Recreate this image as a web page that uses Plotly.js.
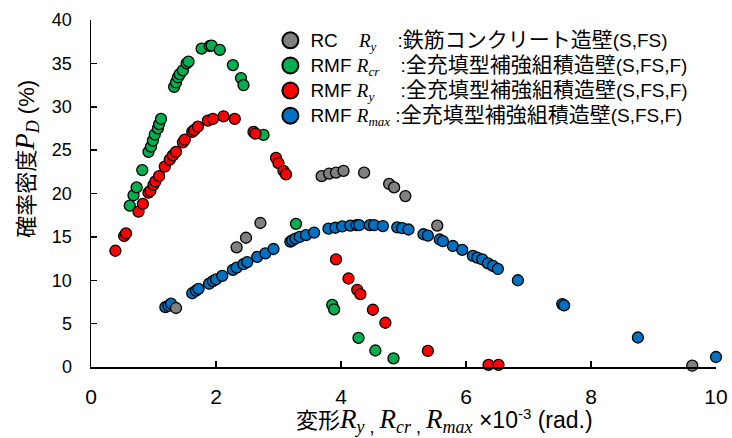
<!DOCTYPE html>
<html>
<head>
<meta charset="utf-8">
<script src="https://cdn.plot.ly/plotly-3.0.1.min.js"></script>
<style>html,body{margin:0;padding:0;background:#fff;}#chart{width:732px;height:438px;}</style>
</head>
<body>
<div id="chart"></div>
<script>
// RC Ry
const rcX = [1.36, 2.33, 2.48, 2.71, 3.69, 3.81, 3.92, 4.04, 4.37, 4.77, 4.85, 5.03, 5.54, 9.62];
const rcY = [6.8, 13.8, 14.9, 16.6, 22.0, 22.3, 22.4, 22.6, 22.4, 21.1, 20.7, 19.7, 16.3, 0.15];
// RMF Rcr
const crX = [0.62, 0.68, 0.73, 0.82, 0.92, 0.96, 0.99, 1.02, 1.07, 1.09, 1.12,
             1.33, 1.36, 1.39, 1.42, 1.47, 1.53, 1.56, 1.77, 1.90, 1.93, 2.06, 2.27, 2.40, 2.44, 2.76,
             3.28, 3.86, 3.89, 4.28, 4.55, 4.84];
const crY = [18.6, 19.8, 20.7, 22.7, 24.8, 25.4, 26.1, 26.8, 27.5, 28.0, 28.6,
             32.3, 32.8, 33.4, 33.75, 34.2, 35.0, 35.2, 36.7, 37.0, 37.05, 36.55, 34.8, 33.3, 32.5, 26.75,
             16.5, 7.15, 6.65, 3.35, 1.9, 1.0];
// RMF Ry
const ryX = [0.39, 0.53, 0.56, 0.76, 0.83, 0.92, 0.95, 1.00, 1.03, 1.09, 1.18, 1.26, 1.31, 1.36,
             1.47, 1.50, 1.62, 1.65, 1.71, 1.87, 1.95, 2.12, 2.30, 2.60, 2.63, 2.96, 3.00, 3.08, 3.12,
             3.92, 4.12, 4.26, 4.31, 4.51, 4.71, 5.39, 6.36, 6.52];
const ryY = [13.4, 15.1, 15.4, 17.9, 18.8, 20.1, 20.3, 21.0, 21.4, 22.0, 23.1, 23.9, 24.4, 24.8,
             25.9, 26.2, 27.1, 27.3, 27.7, 28.4, 28.6, 28.9, 28.6, 27.1, 26.9, 24.1, 23.5, 22.6, 22.2,
             12.4, 10.2, 8.9, 8.4, 6.6, 5.1, 1.85, 0.25, 0.25];
// RMF Rmax
const rmX = [1.19, 1.24, 1.28, 1.62, 1.68, 1.72, 1.89, 1.95, 2.00, 2.10, 2.27, 2.33, 2.44, 2.50,
             2.66, 2.79, 2.92, 3.19, 3.22, 3.27, 3.34, 3.44, 3.57, 3.80, 3.91, 4.02, 4.15, 4.25,
             4.29, 4.46, 4.53, 4.67, 4.90, 4.98, 5.08, 5.32, 5.39, 5.58, 5.63, 5.79, 5.94, 6.11,
             6.18, 6.26, 6.35, 6.43, 6.51, 6.83, 7.54, 7.57, 8.75, 10.0];
const rmY = [6.9, 7.05, 7.3, 8.5, 8.8, 9.0, 9.6, 9.9, 10.1, 10.5, 11.2, 11.45, 11.85, 12.1,
             12.7, 13.1, 13.6, 14.45, 14.6, 14.8, 15.0, 15.2, 15.5, 15.95, 16.05, 16.2, 16.3, 16.35,
             16.35, 16.35, 16.35, 16.25, 16.1, 16.0, 15.85, 15.3, 15.15, 14.7, 14.5, 13.95, 13.5, 12.8,
             12.6, 12.4, 11.95, 11.65, 11.3, 10.0, 7.25, 7.1, 3.4, 1.15];

const xTicks = [0, 2, 4, 6, 8, 10];
const yTicks = [0, 5, 10, 15, 20, 25, 30, 35, 40];

const SANS = 'Liberation Sans, Arial, Noto Sans CJK JP, sans-serif';
const NB = '\u00A0';
const sp = n => NB.repeat(n);
const iv = (s, fs) => '<span style="font-family:Liberation Serif' + (fs ? ';font-size:' + fs + 'px' : '') + '"><i>' + s + '</i></span>';
const ivs = (s, fs) => '<sub><span style="font-family:Liberation Serif' + (fs ? ';font-size:' + fs + 'px' : '') + '"><i>' + s + '</i></span></sub>';
const cjk = (s, fs) => '<span style="font-family:Noto Sans CJK JP;font-size:' + fs + 'px">' + s + '</span>';
const lat = (s, fs) => '<span style="font-family:Liberation Sans;font-size:' + fs + 'px">' + s + '</span>';

const colors = {rc: '#808080', cr: '#00B050', ry: '#FF0000', rm: '#0070C0'};
const LF = 19;
const names = {
  rc: lat('RC' + sp(4), LF) + iv('R', LF) + ivs('y', 13) + lat(sp(4) + ':', LF) + cjk('鉄筋コンクリート造壁', 21) + lat('(S,FS)', LF),
  cr: lat('RMF' + sp(1), LF) + iv('R', LF) + ivs('cr', 13) + lat(sp(4) + ':', LF) + cjk('全充填型補強組積造壁', 21) + lat('(S,FS,F)', LF),
  ry: lat('RMF' + sp(1), LF) + iv('R', LF) + ivs('y', 13) + lat(sp(5) + ':', LF) + cjk('全充填型補強組積造壁', 21) + lat('(S,FS,F)', LF),
  rm: lat('RMF' + sp(1), LF) + iv('R', LF) + ivs('max', 13) + lat(sp(1) + ':', LF) + cjk('全充填型補強組積造壁', 21) + lat('(S,FS,F)', LF)
};

function dataTrace(x, y, key) {
  return {x: x, y: y, type: 'scatter', mode: 'markers', showlegend: false, cliponaxis: false,
    hoverinfo: 'x+y',
    marker: {size: 11, color: colors[key], line: {color: '#000', width: 1.3}}};
}
function legendTrace(key) {
  return {x: [null], y: [null], type: 'scatter', mode: 'markers', name: names[key],
    marker: {size: 16, color: colors[key], line: {color: '#000', width: 2}}};
}

const traces = [
  dataTrace(rmX, rmY, 'rm'),
  dataTrace(crX, crY, 'cr'),
  dataTrace(ryX, ryY, 'ry'),
  dataTrace(rcX, rcY, 'rc'),
  legendTrace('rc'), legendTrace('cr'), legendTrace('ry'), legendTrace('rm')
];

const layout = {
  width: 732, height: 438,
  margin: {l: 91, r: 16, t: 20, b: 71},
  paper_bgcolor: '#fff', plot_bgcolor: '#fff',
  font: {family: SANS, color: '#000', size: 18},
  showlegend: true,
  legend: {x: 0.287, y: 0.992, xanchor: 'left', yanchor: 'top', bgcolor: 'rgba(0,0,0,0)',
    font: {family: SANS, size: 17, color: '#000'}, traceorder: 'normal'},
  xaxis: {range: [0, 10], tickvals: xTicks, ticktext: xTicks.map(String),
    showline: true, linecolor: '#000', linewidth: 1.5, ticks: 'inside', ticklen: 6, tickwidth: 1.5,
    tickcolor: '#000', showgrid: false, zeroline: false, ticklabelstandoff: 10,
    tickfont: {family: SANS, size: 21, color: '#000'}},
  yaxis: {range: [0, 40], tickvals: yTicks, ticktext: yTicks.map(String),
    showline: true, linecolor: '#000', linewidth: 1.5, ticks: 'inside', ticklen: 6, tickwidth: 1.5,
    tickcolor: '#000', showgrid: false, zeroline: false, ticklabelstandoff: 14,
    tickfont: {family: SANS, size: 18, color: '#000'}},
  annotations: [
    {xref: 'paper', yref: 'paper', x: 0.566, y: -0.150, xanchor: 'center', yanchor: 'middle',
     showarrow: false, font: {family: 'Noto Sans CJK JP, sans-serif', size: 22, color: '#000'},
     text: '変形' + iv('R', 27) + ivs('y', 18) + '<sub>' + lat(' , ', 18) + '</sub>' +
       iv('R', 27) + ivs('cr', 18) + '<sub>' + lat(' , ', 18) + '</sub>' +
       iv('R', 27) + ivs('max', 18) + lat(' ×10', 23) + '<sup>' + lat('-3', 15) + '</sup>' + lat(' (rad.)', 23)},
    {xref: 'paper', yref: 'paper', x: -0.104, y: 0.60, xanchor: 'center', yanchor: 'middle',
     textangle: -90, showarrow: false,
     font: {family: 'Noto Sans CJK JP, sans-serif', size: 22, color: '#000'},
     text: '確率密度' + iv('P', 27) + ivs('D', 18) + lat(' (%)', 22)}
  ]
};

Plotly.newPlot('chart', traces, layout, {displayModeBar: false, staticPlot: true});
</script>
</body>
</html>
